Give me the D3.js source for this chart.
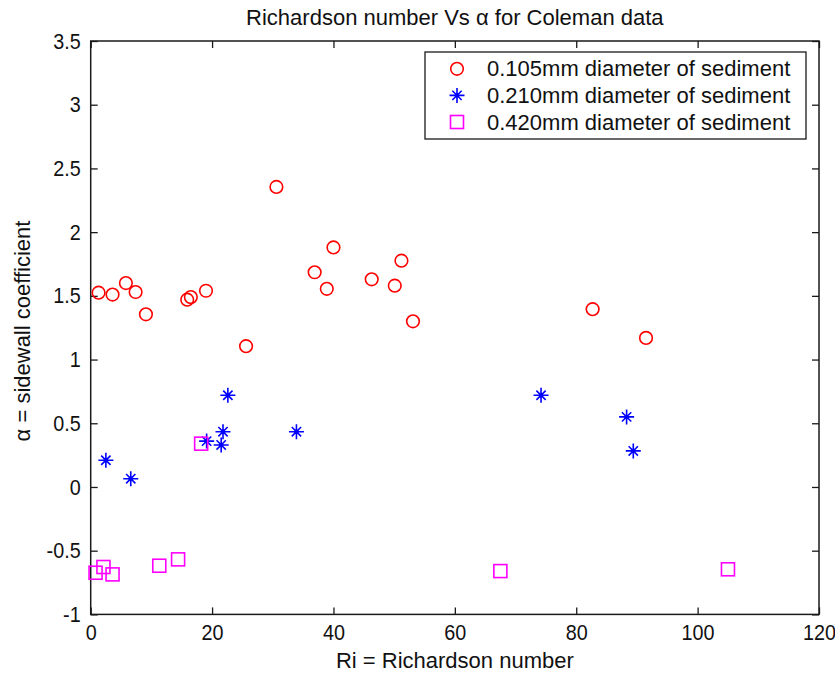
<!DOCTYPE html>
<html>
<head>
<meta charset="utf-8">
<script src="https://cdn.jsdelivr.net/npm/d3@7"></script>
<style>
  html, body { margin: 0; padding: 0; background: #fff; }
  svg { display: block; }
  text { font-family: "Liberation Sans", Arial, sans-serif; fill: #111; }
</style>
</head>
<body>
<script>
// Sidewall coefficient alpha against Richardson number, three sediment sizes
const fineRi    = [1.3, 3.6, 5.8, 7.4, 9.1, 15.9, 16.5, 19.0, 25.6, 30.6, 36.9, 38.9, 40.0, 46.3, 50.1, 51.2, 53.1, 82.7, 91.5];
const fineAlpha = [1.525, 1.51, 1.60, 1.53, 1.355, 1.47, 1.49, 1.54, 1.105, 2.355, 1.685, 1.555, 1.88, 1.63, 1.58, 1.776, 1.30, 1.395, 1.17];

const mediumRi    = [2.5, 6.6, 19.1, 21.5, 21.8, 22.6, 33.9, 74.2, 88.3, 89.4];
const mediumAlpha = [0.21, 0.065, 0.36, 0.33, 0.434, 0.72, 0.434, 0.72, 0.55, 0.283];

const coarseRi    = [0.8, 2.1, 3.6, 11.3, 14.4, 18.2, 67.5, 105.0];
const coarseAlpha = [-0.673, -0.628, -0.686, -0.618, -0.568, 0.34, -0.66, -0.646];

const xTicks = [0, 20, 40, 60, 80, 100, 120];
const yTicks = [-1, -0.5, 0, 0.5, 1, 1.5, 2, 2.5, 3, 3.5];

const seriesNames = [
  "0.105mm diameter of sediment",
  "0.210mm diameter of sediment",
  "0.420mm diameter of sediment"
];

const W = 835, H = 674;
const plot = { left: 90.7, right: 819, top: 41, bottom: 614.4 };
const fontSize = 22;
const tickSqueeze = 0.9;   // tick numerals are set slightly narrow
const axisColor = "#1a1a1a";

const svg = d3.select("body").append("svg").attr("width", W).attr("height", H);

const x = d3.scaleLinear().domain([0, 120]).range([plot.left, plot.right]);
const y = d3.scaleLinear().domain([-1, 3.5]).range([plot.bottom, plot.top]);

const fmt = v => String(v);
const tickLen = 7;

// bottom and left axes with inward ticks
const gx = svg.append("g").attr("transform", `translate(0,${plot.bottom})`)
  .call(d3.axisBottom(x).tickValues(xTicks).tickFormat(fmt).tickSizeInner(-tickLen).tickSizeOuter(0).tickPadding(10));
const gy = svg.append("g").attr("transform", `translate(${plot.left},0)`)
  .call(d3.axisLeft(y).tickValues(yTicks).tickFormat(fmt).tickSizeInner(-tickLen).tickSizeOuter(0).tickPadding(10));
// mirrored ticks on the top and right edges
const gxt = svg.append("g").attr("transform", `translate(0,${plot.top})`)
  .call(d3.axisTop(x).tickValues(xTicks).tickFormat("").tickSizeInner(-tickLen).tickSizeOuter(0));
const gyr = svg.append("g").attr("transform", `translate(${plot.right},0)`)
  .call(d3.axisRight(y).tickValues(yTicks).tickFormat("").tickSizeInner(-tickLen).tickSizeOuter(0));

[gx, gy, gxt, gyr].forEach(g => {
  g.select(".domain").remove();
  g.selectAll("line").attr("stroke", axisColor).attr("stroke-width", 1.3);
  g.selectAll("text").attr("font-size", fontSize).attr("font-family", "Liberation Sans, Arial, sans-serif").attr("fill", "#111");
});

// narrow the numerals horizontally while keeping their anchor points
gx.selectAll(".tick text").attr("transform", `scale(${tickSqueeze},1)`);
gy.selectAll(".tick text")
  .attr("x", -10 / tickSqueeze)
  .attr("transform", `scale(${tickSqueeze},1)`);

// axes box
svg.append("rect")
  .attr("x", plot.left).attr("y", plot.top)
  .attr("width", plot.right - plot.left).attr("height", plot.bottom - plot.top)
  .attr("fill", "none").attr("stroke", axisColor).attr("stroke-width", 1.5);

// marker drawers
const circleR = 6.3, squareS = 13, starR = 7.5;
function drawCircle(g, cx, cy) {
  g.append("circle").attr("cx", cx).attr("cy", cy).attr("r", circleR)
    .attr("fill", "none").attr("stroke", "#ff0000").attr("stroke-width", 1.6);
}
function drawStar(g, cx, cy) {
  const d = starR * 0.62;
  const path = `M${cx - starR},${cy}H${cx + starR}M${cx},${cy - starR}V${cy + starR}` +
    `M${cx - d},${cy - d}L${cx + d},${cy + d}M${cx - d},${cy + d}L${cx + d},${cy - d}`;
  g.append("path").attr("d", path).attr("stroke", "#0000ff").attr("stroke-width", 1.6).attr("fill", "none");
  g.append("circle").attr("cx", cx).attr("cy", cy).attr("r", 2.2).attr("fill", "#0000ff");
}
function drawSquare(g, cx, cy) {
  g.append("rect").attr("x", cx - squareS / 2).attr("y", cy - squareS / 2)
    .attr("width", squareS).attr("height", squareS)
    .attr("fill", "none").attr("stroke", "#ff00ff").attr("stroke-width", 1.6);
}

const marks = svg.append("g");
fineRi.forEach((r, i) => drawCircle(marks, x(r), y(fineAlpha[i])));
mediumRi.forEach((r, i) => drawStar(marks, x(r), y(mediumAlpha[i])));
coarseRi.forEach((r, i) => drawSquare(marks, x(r), y(coarseAlpha[i])));

// legend
const leg = svg.append("g");
leg.append("rect").attr("x", 425).attr("y", 52).attr("width", 381).attr("height", 87)
  .attr("fill", "#fff").attr("stroke", axisColor).attr("stroke-width", 1.3);
const drawers = [drawCircle, drawStar, drawSquare];
seriesNames.forEach((name, i) => {
  const cy = 68.8 + i * 26.6;
  drawers[i](leg, 457, cy);
  leg.append("text").attr("x", 487).attr("y", cy + 7.6).attr("font-size", fontSize).text(name);
});

// title and axis labels
svg.append("text").attr("x", (plot.left + plot.right) / 2).attr("y", 24.5)
  .attr("text-anchor", "middle").attr("font-size", fontSize).text("Richardson number Vs α for Coleman data");
svg.append("text").attr("x", (plot.left + plot.right) / 2).attr("y", 668)
  .attr("text-anchor", "middle").attr("font-size", fontSize).text("Ri = Richardson number");
svg.append("text").attr("transform", "translate(30,331) rotate(-90)")
  .attr("text-anchor", "middle").attr("font-size", fontSize).text("α = sidewall coefficient");
</script>
</body>
</html>
